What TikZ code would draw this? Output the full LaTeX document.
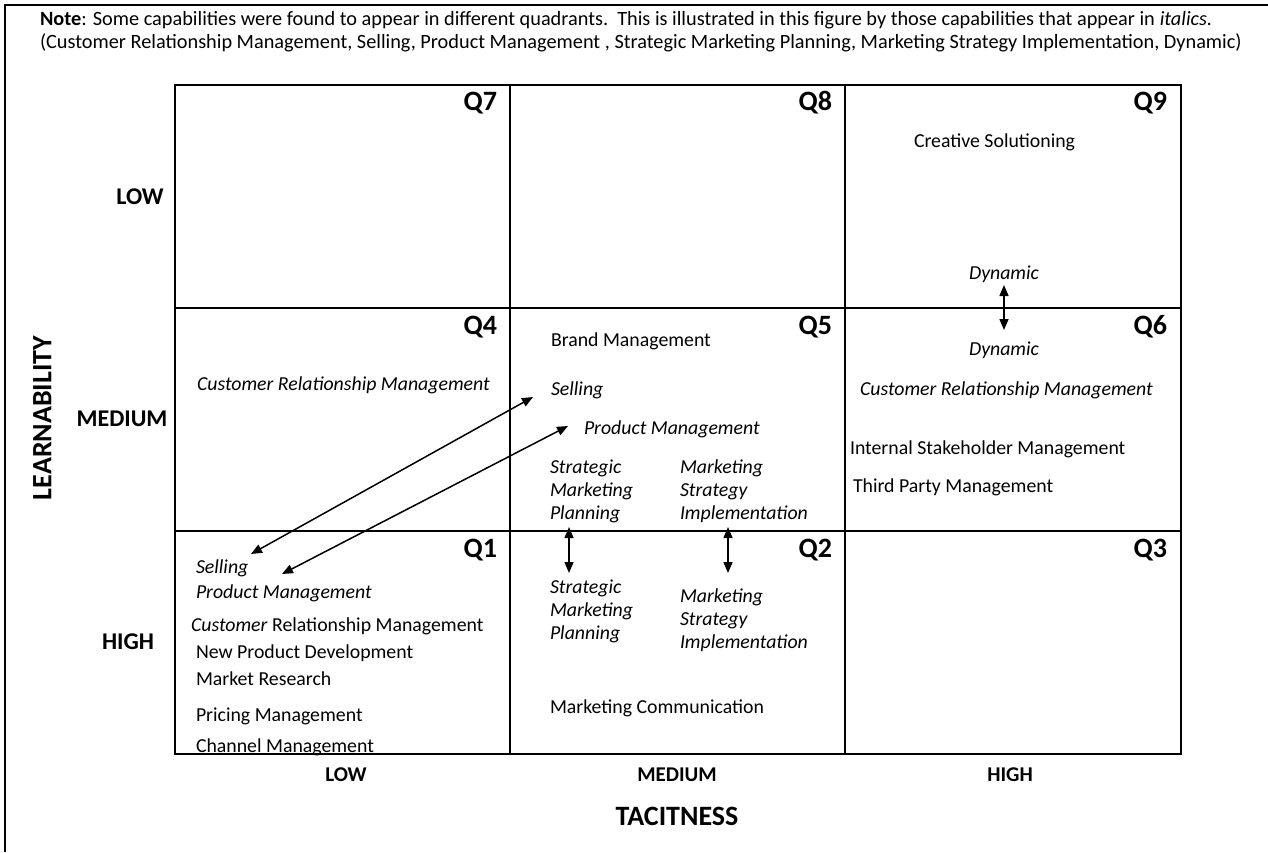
\documentclass[tikz,border=0pt]{standalone}
\usepackage{fontspec}
\setmainfont{Carlito}
\usetikzlibrary{arrows.meta}

\begin{document}
\begin{tikzpicture}[x=1pt,y=-1pt,
  every node/.style={inner sep=0pt, outer sep=0pt},
  item/.style={anchor=mid west, font=\fontsize{19.8}{23}\selectfont},
  itl/.style={item, font=\fontsize{19.8}{23}\selectfont\itshape},
  block/.style={anchor=north west, align=left, font=\fontsize{19.8}{23}\selectfont\itshape},
  notetext/.style={anchor=mid west, font=\fontsize{20.3}{22}\selectfont},
  qlab/.style={anchor=mid east, font=\fontsize{28}{32}\selectfont\bfseries},
  rowlab/.style={anchor=mid, font=\fontsize{24}{28}\selectfont\bfseries},
  axlab/.style={anchor=mid, font=\fontsize{21}{25}\selectfont\bfseries},
  axtitle/.style={anchor=mid, font=\fontsize{28}{32}\selectfont\bfseries},
  gridline/.style={line width=2.8pt},
  frameline/.style={line width=1.5pt},
  link/.style={line width=1.5pt, {Triangle[length=11pt,width=9pt]}-{Triangle[length=11pt,width=9pt]}},
]
\useasboundingbox (0,0) rectangle (1268,852);

% open frame around the figure
\draw[frameline] (5,852) -- (5,5) -- (1268,5);

% note
\node[notetext] (note1) at (40,23) {\textbf{Note}: Some capabilities were found to appear in different quadrants.\ \ This is illustrated in this figure by those capabilities that appear in \textit{italics.}};
\node[notetext] (note2) at (40,46) {(Customer Relationship Management, Selling, Product Management , Strategic Marketing Planning, Marketing Strategy Implementation, Dynamic)};

% 3x3 grid
\draw[gridline] (175,85) rectangle (1181,754);
\draw[gridline] (510,85) -- (510,754);
\draw[gridline] (845,85) -- (845,754);
\draw[gridline] (175,308) -- (1181,308);
\draw[gridline] (175,531) -- (1181,531);

% quadrant labels
\node[qlab] (q7) at (497,108) {Q7};
\node[qlab] (q8) at (832,108) {Q8};
\node[qlab] (q9) at (1167,108) {Q9};
\node[qlab] (q4) at (497,332) {Q4};
\node[qlab] (q5) at (832,332) {Q5};
\node[qlab] (q6) at (1167,332) {Q6};
\node[qlab] (q1) at (497,555) {Q1};
\node[qlab] (q2) at (832,555) {Q2};
\node[qlab] (q3) at (1167,555) {Q3};

% axes
\node[rowlab] (rlow) at (140,202) {LOW};
\node[rowlab] (rmed) at (122,424) {MEDIUM};
\node[rowlab] (rhigh) at (128,647) {HIGH};
\node[axtitle, rotate=90] (learn) at (49,418) {LEARNABILITY};
\node[axlab] (clow) at (346,779) {LOW};
\node[axlab] (cmed) at (677,779) {MEDIUM};
\node[axlab] (chigh) at (1010,779) {HIGH};
\node[axtitle] (tacit) at (677,823) {TACITNESS};

% Q9
\node[item] (creative) at (914,145) {Creative Solutioning};
\node[itl, anchor=mid] (dyn9) at (1004,277) {Dynamic};

% Q6
\node[itl, anchor=mid] (dyn6) at (1004,353) {Dynamic};
\node[itl] (crm6) at (860,393) {Customer Relationship Management};
\node[item] (ism) at (850,452) {Internal Stakeholder Management};
\node[item] (tpm) at (853,490) {Third Party Management};

% Q4
\node[itl] (crm4) at (197,388) {Customer Relationship Management};

% Q5
\node[item] (brand) at (551,344) {Brand Management};
\node[itl] (sell5) at (551,393) {Selling};
\node[itl] (pm5) at (584,432) {Product Management};
\node[block] (smp5) at (550,460) {Strategic\\Marketing\\Planning};
\node[block] (msi5) at (680,460) {Marketing\\Strategy\\Implementation};

% Q2
\node[block] (smp2) at (550,580) {Strategic\\Marketing\\Planning};
\node[block] (msi2) at (680,589) {Marketing\\Strategy\\Implementation};
\node[item] (mcomm) at (550,711) {Marketing Communication};

% Q1
\node[itl] (sell1) at (196,571) {Selling};
\node[itl] (pm1) at (196,596) {Product Management};
\node[item] (crm1) at (191,629) {\textit{Customer} Relationship Management};
\node[item] (npd) at (196,656) {New Product Development};
\node[item] (mr) at (196,683) {Market Research};
\node[item] (prm) at (196,719) {Pricing Management};
\node[item] (chm) at (196,750) {Channel Management};

% arrow end points
\coordinate (sellHi) at (533,397);
\coordinate (sellLo) at (251,554);
\coordinate (pmHi) at (568,426);
\coordinate (pmLo) at (282,574);
\coordinate (smpHi) at (569,527);
\coordinate (smpLo) at (569,573);
\coordinate (msiHi) at (728,527);
\coordinate (msiLo) at (728,573);
\coordinate (dynHi) at (1004,285);
\coordinate (dynLo) at (1004,330);

\draw[link] (sellLo) -- (sellHi);
\draw[link] (pmLo) -- (pmHi);
\draw[link] (smpHi) -- (smpLo);
\draw[link] (msiHi) -- (msiLo);
\draw[link] (dynHi) -- (dynLo);
\end{tikzpicture}
\end{document}
